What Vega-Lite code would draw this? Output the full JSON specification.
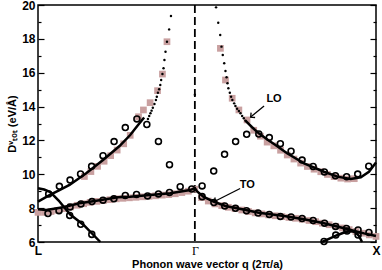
{
 "$schema": "https://vega.github.io/schema/vega-lite/v6.json",
 "width": 338, "height": 237,
 "autosize": {"type": "none"},
 "padding": {"left": 38, "top": 5, "right": 6, "bottom": 28},
 "background": "white",
 "config": {"view": {"stroke": "black", "strokeWidth": 1.5}, "font": "Liberation Sans"},
 "datasets": {
  "lines": [
   {"s":"LOL","q":-0.866,"E":8.38},{"s":"LOL","q":-0.8,"E":8.78},{"s":"LOL","q":-0.75,"E":9.05},{"s":"LOL","q":-0.692,"E":9.37},{"s":"LOL","q":-0.6,"E":10.06},{"s":"LOL","q":-0.507,"E":10.84},{"s":"LOL","q":-0.416,"E":11.67},{"s":"LOL","q":-0.357,"E":12.32},{"s":"LOL","q":-0.318,"E":12.85},{"s":"LOL","q":-0.28,"E":13.36},
   {"s":"LOR","q":0.279,"E":13.17},{"s":"LOR","q":0.316,"E":12.78},{"s":"LOR","q":0.353,"E":12.42},{"s":"LOR","q":0.4,"E":12.05},{"s":"LOR","q":0.445,"E":11.73},{"s":"LOR","q":0.509,"E":11.24},{"s":"LOR","q":0.603,"E":10.65},{"s":"LOR","q":0.713,"E":10.15},{"s":"LOR","q":0.787,"E":9.86},{"s":"LOR","q":0.86,"E":9.72},{"s":"LOR","q":0.916,"E":9.82},{"s":"LOR","q":0.961,"E":10.15},{"s":"LOR","q":1.0,"E":10.7},
   {"s":"TO","q":-0.866,"E":7.93},{"s":"TO","q":-0.82,"E":7.89},{"s":"TO","q":-0.728,"E":8.05},{"s":"TO","q":-0.637,"E":8.29},{"s":"TO","q":-0.544,"E":8.44},{"s":"TO","q":-0.425,"E":8.64},{"s":"TO","q":-0.357,"E":8.68},{"s":"TO","q":-0.247,"E":8.78},{"s":"TO","q":-0.136,"E":8.88},{"s":"TO","q":-0.026,"E":9.07},{"s":"TO","q":0,"E":9.19},{"s":"TO","q":0.011,"E":9.0},{"s":"TO","q":0.047,"E":8.68},{"s":"TO","q":0.103,"E":8.38},{"s":"TO","q":0.169,"E":8.13},{"s":"TO","q":0.261,"E":7.93},{"s":"TO","q":0.353,"E":7.73},{"s":"TO","q":0.493,"E":7.54},{"s":"TO","q":0.603,"E":7.34},{"s":"TO","q":0.713,"E":7.11},{"s":"TO","q":0.824,"E":6.81},{"s":"TO","q":0.934,"E":6.51},{"s":"TO","q":1.0,"E":6.35},
   {"s":"DESC","q":-0.866,"E":9.17},{"s":"DESC","q":-0.832,"E":9.1},{"s":"DESC","q":-0.798,"E":8.95},{"s":"DESC","q":-0.752,"E":8.45},{"s":"DESC","q":-0.688,"E":7.62},{"s":"DESC","q":-0.614,"E":7.01},{"s":"DESC","q":-0.522,"E":6.0},
   {"s":"HUMP","q":0.702,"E":6.0},{"s":"HUMP","q":0.746,"E":6.21},{"s":"HUMP","q":0.785,"E":6.4},{"s":"HUMP","q":0.824,"E":6.56},{"s":"HUMP","q":0.857,"E":6.65},{"s":"HUMP","q":0.884,"E":6.59},{"s":"HUMP","q":0.906,"E":6.36},{"s":"HUMP","q":0.923,"E":6.0}
  ],
  "circles": [
   {"q":-0.807,"E":8.84},{"q":-0.748,"E":9.29},{"q":-0.689,"E":9.66},{"q":-0.631,"E":10.02},{"q":-0.57,"E":10.47},{"q":-0.507,"E":11.1},{"q":-0.446,"E":11.93},{"q":-0.384,"E":12.76},{"q":-0.32,"E":13.27},{"q":-0.265,"E":12.94},{"q":-0.201,"E":11.94},{"q":-0.14,"E":10.57},{"q":-0.081,"E":9.27},
   {"q":0.04,"E":9.31},{"q":0.104,"E":10.19},{"q":0.164,"E":11.18},{"q":0.225,"E":11.93},{"q":0.286,"E":12.36},{"q":0.353,"E":12.38},{"q":0.411,"E":12.17},{"q":0.472,"E":11.81},{"q":0.531,"E":11.36},{"q":0.592,"E":10.84},{"q":0.653,"E":10.46},{"q":0.715,"E":10.14},{"q":0.776,"E":9.92},{"q":0.838,"E":9.86},{"q":0.899,"E":10.01},{"q":0.96,"E":10.48},
   {"q":-0.811,"E":7.68},{"q":-0.75,"E":7.85},{"q":-0.689,"E":8.07},{"q":-0.629,"E":8.25},{"q":-0.568,"E":8.39},{"q":-0.507,"E":8.47},{"q":-0.447,"E":8.55},{"q":-0.384,"E":8.75},{"q":-0.322,"E":8.81},{"q":-0.261,"E":8.72},{"q":-0.201,"E":8.84},{"q":-0.14,"E":8.93},{"q":-0.017,"E":9.13},
   {"q":-0.691,"E":7.57},{"q":-0.63,"E":7.05},{"q":-0.569,"E":6.45},
   {"q":0.04,"E":8.68},{"q":0.105,"E":8.33},{"q":0.165,"E":8.13},{"q":0.224,"E":7.99},{"q":0.285,"E":7.85},{"q":0.349,"E":7.71},{"q":0.411,"E":7.63},{"q":0.472,"E":7.51},{"q":0.531,"E":7.48},{"q":0.592,"E":7.39},{"q":0.653,"E":7.27},{"q":0.716,"E":7.11},{"q":0.777,"E":6.92},{"q":0.837,"E":6.8},{"q":0.901,"E":6.71},{"q":0.961,"E":6.56},
   {"q":0.713,"E":6.03},{"q":0.778,"E":6.41},{"q":0.84,"E":6.65},{"q":0.901,"E":6.41}
  ],
  "dots": [
   {"q":-0.132,"E":19.35},{"q":-0.142,"E":18.56},{"q":-0.154,"E":17.83},{"q":-0.162,"E":17.24},{"q":-0.168,"E":16.75},{"q":-0.173,"E":16.26},{"q":-0.179,"E":15.92},{"q":-0.186,"E":15.57},{"q":-0.191,"E":15.27},{"q":-0.197,"E":15.02},{"q":-0.204,"E":14.82},{"q":-0.21,"E":14.58},{"q":-0.215,"E":14.39},{"q":-0.223,"E":14.15},{"q":-0.232,"E":13.93},{"q":-0.239,"E":13.76},{"q":-0.245,"E":13.6},{"q":-0.252,"E":13.44},{"q":-0.259,"E":13.27},
   {"q":0,"E":14.7},
   {"q":0.117,"E":19.86},{"q":0.129,"E":18.95},{"q":0.14,"E":18.23},{"q":0.147,"E":17.54},{"q":0.154,"E":17.05},{"q":0.162,"E":16.56},{"q":0.169,"E":16.1},{"q":0.175,"E":15.73},{"q":0.18,"E":15.38},{"q":0.185,"E":15.08},{"q":0.193,"E":14.82},{"q":0.2,"E":14.58},{"q":0.207,"E":14.39},{"q":0.217,"E":14.19},{"q":0.224,"E":14.03},{"q":0.233,"E":13.87},{"q":0.243,"E":13.74},{"q":0.252,"E":13.6},{"q":0.261,"E":13.44},{"q":0.27,"E":13.31},{"q":0.279,"E":13.17}
  ],
  "squares": [
   {"q":-0.154,"E":17.83},{"q":-0.179,"E":15.92},{"q":-0.206,"E":14.94},{"q":-0.247,"E":14.23},{"q":-0.284,"E":13.8},{"q":-0.311,"E":13.4},{"q":-0.357,"E":12.3},{"q":-0.393,"E":11.8},{"q":-0.429,"E":11.43},{"q":-0.465,"E":11.1},{"q":-0.501,"E":10.77},{"q":-0.537,"E":10.47},{"q":-0.574,"E":10.16},{"q":-0.61,"E":9.87},
   {"q":-0.866,"E":7.75},{"q":-0.83,"E":7.75},{"q":-0.794,"E":7.8},{"q":-0.758,"E":7.87},{"q":-0.722,"E":7.97},{"q":-0.686,"E":8.07},{"q":-0.65,"E":8.17},{"q":-0.614,"E":8.26},{"q":-0.578,"E":8.34},{"q":-0.541,"E":8.4},{"q":-0.505,"E":8.45},{"q":-0.469,"E":8.5},{"q":-0.433,"E":8.55},{"q":-0.397,"E":8.58},{"q":-0.361,"E":8.61},{"q":-0.325,"E":8.64},{"q":-0.289,"E":8.67},{"q":-0.253,"E":8.7},{"q":-0.217,"E":8.73},{"q":-0.18,"E":8.77},{"q":-0.144,"E":8.8},{"q":-0.108,"E":8.85},{"q":-0.072,"E":8.92},{"q":-0.036,"E":9.0},{"q":0,"E":9.12},
   {"q":0.037,"E":8.62},{"q":0.074,"E":8.42},{"q":0.111,"E":8.25},{"q":0.148,"E":8.15},{"q":0.185,"E":8.05},{"q":0.222,"E":7.97},{"q":0.259,"E":7.89},{"q":0.296,"E":7.8},{"q":0.333,"E":7.72},{"q":0.37,"E":7.66},{"q":0.407,"E":7.6},{"q":0.444,"E":7.55},{"q":0.481,"E":7.5},{"q":0.519,"E":7.45},{"q":0.556,"E":7.4},{"q":0.593,"E":7.34},{"q":0.63,"E":7.27},{"q":0.667,"E":7.2},{"q":0.704,"E":7.11},{"q":0.741,"E":7.02},{"q":0.778,"E":6.93},{"q":0.815,"E":6.83},{"q":0.852,"E":6.73},{"q":0.889,"E":6.62},{"q":0.926,"E":6.52},{"q":0.963,"E":6.42},{"q":1.0,"E":6.33},
   {"q":0.141,"E":17.44},{"q":0.169,"E":15.57},{"q":0.206,"E":14.49},{"q":0.243,"E":13.8},{"q":0.288,"E":13.21},{"q":0.325,"E":12.6},{"q":0.362,"E":12.25},{"q":0.399,"E":11.9},{"q":0.436,"E":11.68},{"q":0.473,"E":11.42},{"q":0.51,"E":11.14},{"q":0.547,"E":10.9},{"q":0.584,"E":10.66},{"q":0.621,"E":10.46},{"q":0.658,"E":10.3},{"q":0.695,"E":10.15},{"q":0.732,"E":9.99},{"q":0.769,"E":9.86},{"q":0.806,"E":9.77},{"q":0.843,"E":9.72},{"q":0.88,"E":9.74}
  ],
  "arrows": [
   {"id":"LO","q":0.382,"E":14.03,"q2":0.308,"E2":13.38},
   {"id":"TO","q":0.25,"E":9.16,"q2":0.105,"E2":8.38}
  ],
  "labels": [
   {"label":"LO","q":0.437,"E":14.45},
   {"label":"TO","q":0.289,"E":9.35}
  ],
  "gamma": [{"q":0}]
 },
 "layer": [
  {
   "data": {"name": "gamma"},
   "mark": {"type": "rule", "color": "black", "strokeWidth": 1.8, "strokeDash": [8, 4]},
   "encoding": {
    "x": {"field": "q", "type": "quantitative", "scale": {"domain": [-0.866, 1], "nice": false, "zero": false},
     "axis": {"values": [-0.866, 0, 1], "labelExpr": "datum.value < -0.5 ? 'L' : (datum.value > 0.5 ? 'X' : 'Γ')", "ticks": false, "domain": false, "grid": false, "labelOverlap": false, "labelFlush": false, "labelBound": false, "labelFontSize": 12, "labelColor": "black", "labelPadding": 3,
      "labelFont": {"condition": {"test": "abs(datum.value) < 0.1", "value": "Liberation Serif"}, "value": "Liberation Sans"},
      "labelFontWeight": {"condition": {"test": "abs(datum.value) < 0.1", "value": "normal"}, "value": "bold"},
      "title": "Phonon wave vector q (2π/a)", "titleFont": "Liberation Sans", "titleFontSize": 11, "titleFontWeight": "bold", "titleColor": "black", "titlePadding": 2}}
   }
  },
  {
   "data": {"name": "squares"},
   "mark": {"type": "point", "shape": "square", "filled": true, "color": "#c9a0a0", "opacity": 1, "size": 45},
   "encoding": {
    "x": {"field": "q", "type": "quantitative", "scale": {"domain": [-0.866, 1], "nice": false, "zero": false}},
    "y": {"field": "E", "type": "quantitative", "scale": {"domain": [6, 20], "nice": false, "zero": false},
     "axis": {"orient": "left", "values": [6,7,8,9,10,11,12,13,14,15,16,17,18,19,20], "labelExpr": "datum.value % 2 == 0 ? datum.label : ''", "grid": false, "domain": false, "tickColor": "black", "tickWidth": 1.2,
      "tickSize": {"condition": {"test": "datum.value % 2 == 0", "value": -6}, "value": -3},
      "labelFontSize": 12, "labelFontWeight": "bold", "labelColor": "black", "labelPadding": 9, "labelFont": "Liberation Sans",
      "title": "Dᵛₜₒₜ (eV/Å)", "titleFont": "Liberation Sans", "titleFontSize": 11, "titleFontWeight": "bold", "titleColor": "black", "titlePadding": 4}}
   }
  },
  {
   "data": {"name": "lines"},
   "mark": {"type": "line", "color": "black", "strokeWidth": 2.5},
   "encoding": {
    "x": {"field": "q", "type": "quantitative", "scale": {"domain": [-0.866, 1], "nice": false, "zero": false}},
    "y": {"field": "E", "type": "quantitative", "scale": {"domain": [6, 20], "nice": false, "zero": false},
     "axis": {"orient": "right", "values": [6,7,8,9,10,11,12,13,14,15,16,17,18,19,20], "labels": false, "grid": false, "domain": false, "tickColor": "black", "tickWidth": 1.2, "title": null,
      "tickSize": {"condition": {"test": "datum.value % 2 == 0", "value": -6}, "value": -3}}},
    "detail": {"field": "s", "type": "nominal"}
   }
  },
  {
   "data": {"name": "circles"},
   "mark": {"type": "point", "shape": "circle", "filled": false, "color": "black", "strokeWidth": 1.6, "size": 35, "opacity": 1},
   "encoding": {
    "x": {"field": "q", "type": "quantitative", "scale": {"domain": [-0.866, 1], "nice": false, "zero": false}},
    "y": {"field": "E", "type": "quantitative", "scale": {"domain": [6, 20], "nice": false, "zero": false}, "axis": null}
   }
  },
  {
   "data": {"name": "dots"},
   "mark": {"type": "point", "shape": "circle", "filled": true, "color": "black", "size": 6, "opacity": 1},
   "encoding": {
    "x": {"field": "q", "type": "quantitative", "scale": {"domain": [-0.866, 1], "nice": false, "zero": false}},
    "y": {"field": "E", "type": "quantitative", "scale": {"domain": [6, 20], "nice": false, "zero": false}, "axis": null}
   }
  },
  {
   "data": {"name": "arrows"},
   "mark": {"type": "rule", "color": "black", "strokeWidth": 1.3},
   "encoding": {
    "x": {"field": "q", "type": "quantitative", "scale": {"domain": [-0.866, 1], "nice": false, "zero": false}},
    "y": {"field": "E", "type": "quantitative", "scale": {"domain": [6, 20], "nice": false, "zero": false}, "axis": null},
    "x2": {"field": "q2"},
    "y2": {"field": "E2"}
   }
  },
  {
   "data": {"name": "arrows"},
   "transform": [{"filter": "datum.id == 'LO'"}],
   "mark": {"type": "point", "shape": "M-1,-1L0,0L-1,1", "filled": false, "color": "black", "strokeWidth": 1.3, "size": 40, "angle": 140.8, "opacity": 1},
   "encoding": {
    "x": {"field": "q2", "type": "quantitative", "scale": {"domain": [-0.866, 1], "nice": false, "zero": false}},
    "y": {"field": "E2", "type": "quantitative", "scale": {"domain": [6, 20], "nice": false, "zero": false}, "axis": null}
   }
  },
  {
   "data": {"name": "arrows"},
   "transform": [{"filter": "datum.id == 'TO'"}],
   "mark": {"type": "point", "shape": "M-1,-1L0,0L-1,1", "filled": false, "color": "black", "strokeWidth": 1.3, "size": 40, "angle": 153.3, "opacity": 1},
   "encoding": {
    "x": {"field": "q2", "type": "quantitative", "scale": {"domain": [-0.866, 1], "nice": false, "zero": false}},
    "y": {"field": "E2", "type": "quantitative", "scale": {"domain": [6, 20], "nice": false, "zero": false}, "axis": null}
   }
  },
  {
   "data": {"name": "labels"},
   "mark": {"type": "text", "font": "Liberation Sans", "fontSize": 11, "fontWeight": "bold", "color": "black"},
   "encoding": {
    "x": {"field": "q", "type": "quantitative", "scale": {"domain": [-0.866, 1], "nice": false, "zero": false}},
    "y": {"field": "E", "type": "quantitative", "scale": {"domain": [6, 20], "nice": false, "zero": false}, "axis": null},
    "text": {"field": "label"}
   }
  }
 ],
 "resolve": {"axis": {"y": "independent"}}
}
